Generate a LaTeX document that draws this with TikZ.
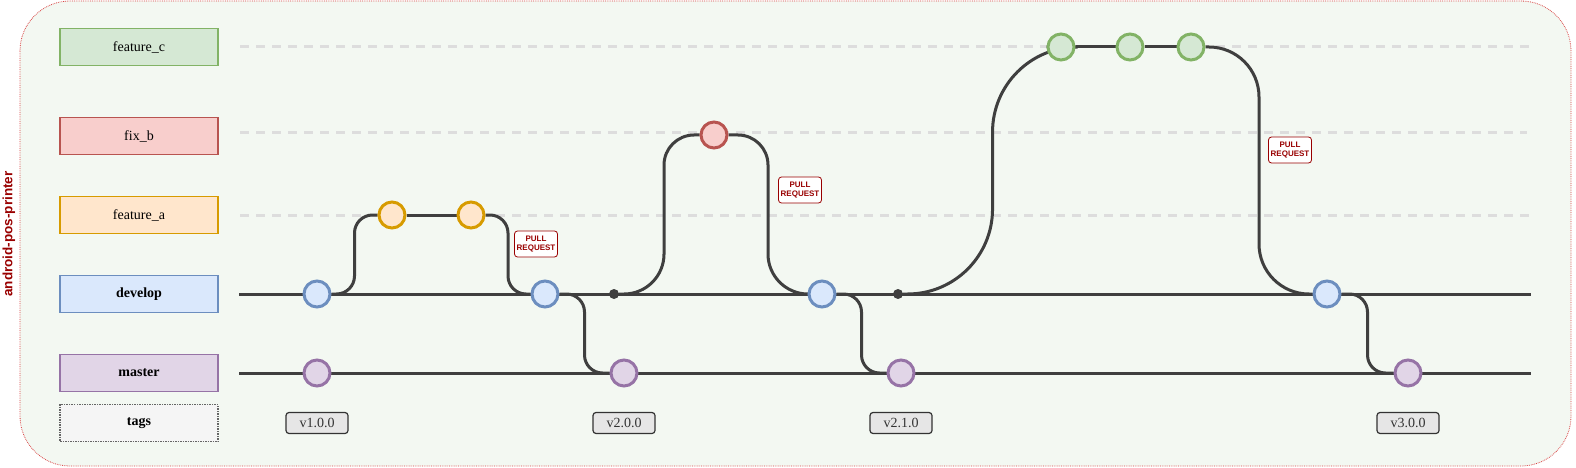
\documentclass[tikz,border=0pt]{standalone}
\usepackage{fontspec}
\setmainfont{Liberation Serif}
\setsansfont{Liberation Sans}
\usepackage{tikz}
\usetikzlibrary{calc}
\pgfdeclarelayer{background}
\pgfdeclarelayer{canvas}
\pgfsetlayers{canvas,background,main}

\definecolor{bgfill}{HTML}{F3F8F2}
\definecolor{bgline}{HTML}{D94444}
\definecolor{titlered}{HTML}{990000}
\definecolor{lineclr}{HTML}{3F3F3F}
\definecolor{guideclr}{HTML}{DDDDDD}
\definecolor{greenfill}{HTML}{D5E8D4}
\definecolor{greenline}{HTML}{82B366}
\definecolor{redfill}{HTML}{F8CECC}
\definecolor{redline}{HTML}{B85450}
\definecolor{orangefill}{HTML}{FFE6CC}
\definecolor{orangeline}{HTML}{D79B00}
\definecolor{bluefill}{HTML}{DAE8FC}
\definecolor{blueline}{HTML}{6C8EBF}
\definecolor{purplefill}{HTML}{E1D5E7}
\definecolor{purpleline}{HTML}{9673A6}
\definecolor{tagfill}{HTML}{E6E6E6}
\definecolor{tagline}{HTML}{333333}

\begin{document}
\begin{tikzpicture}[x=1pt,y=-1pt,
    lane/.style={draw,line width=1.5pt,minimum width=158pt,minimum height=37pt,font=\fontsize{14}{16}\selectfont},
    commit/.style={circle,draw,line width=3pt,minimum size=26pt,inner sep=0pt},
    tag/.style={draw=tagline,fill=tagfill,rounded corners=3pt,line width=1.2pt,minimum width=62pt,minimum height=21pt,inner sep=0pt,text=tagline,font=\fontsize{14}{16}\selectfont},
    pr/.style={draw=titlered,fill=white,rounded corners=3pt,line width=0.8pt,minimum width=43pt,minimum height=26pt,inner sep=1pt,align=center,text=titlered,font=\sffamily\bfseries\fontsize{8}{9}\selectfont},
    branch/.style={line width=3pt,draw=lineclr},
    guide/.style={line width=3pt,draw=guideclr,dash pattern=on 9pt off 7pt}]

    \useasboundingbox (0,0) rectangle (1576,468);
    \begin{pgfonlayer}{canvas}
    \draw[bgline,fill=bgfill,densely dotted,line width=0.8pt,rounded corners=50pt] (20,1) rectangle (1571,466);
    \end{pgfonlayer}
    \node[rotate=90,text=titlered,font=\sffamily\bfseries\fontsize{13.5}{15}\selectfont] (title) at (9,234) {android-pos-printer};

    % lanes
    \node[lane,fill=greenfill,draw=greenline]   (lc) at (139,47)  {feature\_c};
    \node[lane,fill=redfill,draw=redline]       (lb) at (139,136) {fix\_b};
    \node[lane,fill=orangefill,draw=orangeline] (la) at (139,215) {feature\_a};
    \node[lane,fill=bluefill,draw=blueline,font=\bfseries\fontsize{14}{16}\selectfont]     (ld) at (139,294) {develop};
    \node[lane,fill=purplefill,draw=purpleline,font=\bfseries\fontsize{14}{16}\selectfont] (lm) at (139,373) {master};
    \node[lane,fill=black!4,draw=black!60,densely dotted,font=\bfseries\fontsize{14}{16}\selectfont] (lt) at (139,423) {tags};

    \coordinate (cs) at (240,47);  \coordinate (ce) at (1531,47);
    \coordinate (bs) at (240,133); \coordinate (be) at (1527,133);
    \coordinate (as) at (240,215); \coordinate (ae) at (1531,215);
    \coordinate (ds) at (239,294); \coordinate (de) at (1531,294);
    \coordinate (ms) at (239,373); \coordinate (me) at (1531,373);

    % commits
    \node[commit,fill=bluefill,draw=blueline]     (d1) at (317,294)  {};
    \node[commit,fill=purplefill,draw=purpleline] (m1) at (317,373)  {};
    \node[commit,fill=orangefill,draw=orangeline] (a1) at (392,215)  {};
    \node[commit,fill=orangefill,draw=orangeline] (a2) at (471,215)  {};
    \node[commit,fill=bluefill,draw=blueline]     (d2) at (545,294)  {};
    \node[commit,fill=purplefill,draw=purpleline] (m2) at (624,373)  {};
    \node[circle,fill=lineclr,minimum size=10pt,inner sep=0pt] (j1) at (614,294) {};
    \node[commit,fill=redfill,draw=redline]       (b1) at (714,135)  {};
    \node[commit,fill=bluefill,draw=blueline]     (d3) at (822,294)  {};
    \node[commit,fill=purplefill,draw=purpleline] (m3) at (901,373)  {};
    \node[circle,fill=lineclr,minimum size=10pt,inner sep=0pt] (j2) at (898,294) {};
    \node[commit,fill=greenfill,draw=greenline]   (c1) at (1061,47)  {};
    \node[commit,fill=greenfill,draw=greenline]   (c2) at (1130,47)  {};
    \node[commit,fill=greenfill,draw=greenline]   (c3) at (1191,47)  {};
    \node[commit,fill=bluefill,draw=blueline]     (d4) at (1327,294) {};
    \node[commit,fill=purplefill,draw=purpleline] (m4) at (1408,373) {};
    \coordinate (k2) at ($(j2)!.58!(c1)$);

    % tags
    \node[tag] (t1) at (317,423)  {v1.0.0};
    \node[tag] (t2) at (624,423)  {v2.0.0};
    \node[tag] (t3) at (901,423)  {v2.1.0};
    \node[tag] (t4) at (1408,423) {v3.0.0};

    \node[pr] (p1) at (536,244)  {PULL\\REQUEST};
    \node[pr] (p2) at (800,190)  {PULL\\REQUEST};
    \node[pr] (p3) at (1290,150) {PULL\\REQUEST};

    \begin{pgfonlayer}{background}
    \draw[guide] (cs) -- (ce);
    \draw[guide] (bs) -- (be);
    \draw[guide] (as) -- (ae);
    \draw[branch] (ds) -- (de);
    \draw[branch] (ms) -- (me);
    \draw[branch] (a1) -- (a2);
    \draw[branch] (c1) -- (c2) -- (c3);

    \draw[branch,rounded corners=18pt] (d1.east) -| ($(d1)!.5!(a1)$) |- (a1.west);
    \draw[branch,rounded corners=18pt] (a2.east) -| ($(a2)!.5!(d2)$) |- (d2.west);
    \draw[branch,rounded corners=18pt] (d2.east) -| ($(d2)!.5!(m2)$) |- (m2.west);
    \draw[branch] (j1) [rounded corners=40pt] -| ($(j1)!.5!(b1)$) [rounded corners=30pt] |- (b1.west);
    \draw[branch] (b1.east) [rounded corners=30pt] -| ($(b1)!.5!(d3)$) [rounded corners=40pt] |- (d3.west);
    \draw[branch,rounded corners=18pt] (d3.east) -| ($(d3)!.5!(m3)$) |- (m3.west);
    \draw[branch] (j2) [rounded corners=85pt] -| (k2 |- c1) [rounded corners=50pt] -- (c1.west);
    \draw[branch,rounded corners=50pt] (c3.east) -| ($(c3)!.5!(d4)$) |- (d4.west);
    \draw[branch,rounded corners=18pt] (d4.east) -| ($(d4)!.5!(m4)$) |- (m4.west);
    \end{pgfonlayer}
\end{tikzpicture}
\end{document}
